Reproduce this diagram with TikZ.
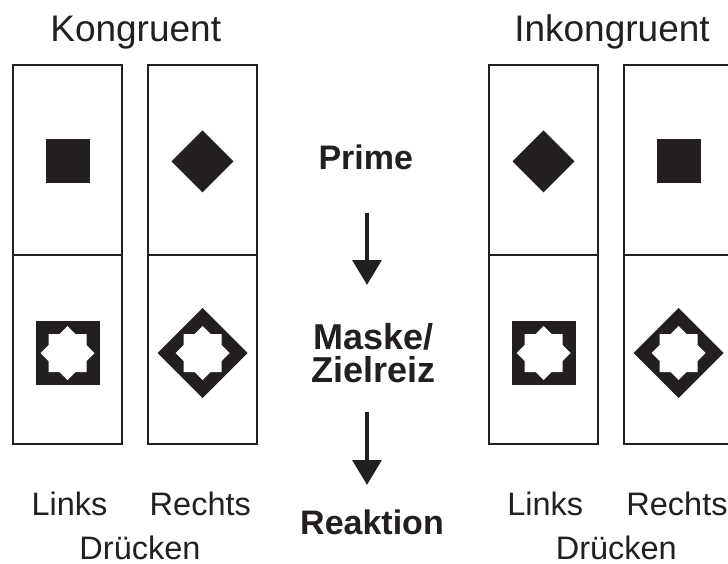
\documentclass[tikz,border=0pt]{standalone}
\usepackage{fontspec}
\setmainfont{Liberation Sans}
\usetikzlibrary{arrows.meta}
\definecolor{ink}{RGB}{35,31,32}
\begin{document}
\begin{tikzpicture}[x=1pt,y=-1pt,
  cell/.style={draw=ink, line width=2pt, minimum width=109pt, minimum height=189pt, inner sep=0},
  title/.style={font=\fontsize{37}{44}\selectfont, text=ink, anchor=base, inner sep=0},
  keylabel/.style={font=\fontsize{32.5}{39}\selectfont, text=ink, anchor=base, inner sep=0},
  stage/.style={font=\bfseries\fontsize{34}{40}\selectfont, text=ink, anchor=base, inner sep=0},
  stagewide/.style={stage, font=\bfseries\fontsize{36}{42}\selectfont},
  flow/.style={draw=ink, line width=4.8pt, -{Triangle[length=25pt,width=28.5pt]}},
  pics/primesq/.style={code={\fill[ink] (-22,-22) rectangle (22,22);}},
  pics/primedia/.style={code={\fill[ink] (0,-31) -- (31,0) -- (0,31) -- (-31,0) -- cycle;}},
  pics/masksq/.style={code={
    \fill[ink] (-32,-32) rectangle (32,32);
    \fill[white] (0,-27) -- (8,-19) -- (19,-19) -- (19,-8) -- (27,0) -- (19,8) -- (19,19) -- (8,19)
      -- (0,27) -- (-8,19) -- (-19,19) -- (-19,8) -- (-27,0) -- (-19,-8) -- (-19,-19) -- (-8,-19) -- cycle;}},
  pics/maskdia/.style={code={
    \fill[ink] (0,-45) -- (45,0) -- (0,45) -- (-45,0) -- cycle;
    \fill[white] (0,-27) -- (8,-19) -- (19,-19) -- (19,-8) -- (27,0) -- (19,8) -- (19,19) -- (8,19)
      -- (0,27) -- (-8,19) -- (-19,19) -- (-19,8) -- (-27,0) -- (-19,-8) -- (-19,-19) -- (-8,-19) -- cycle;}},
]
\useasboundingbox[fill=white] (0,0) rectangle (728,564);

% panel cells: prime (top) and mask/target (bottom)
\node[cell] (kLp) at (67.5,160) {};
\node[cell] (kLm) at (67.5,349) {};
\node[cell] (kRp) at (202.5,160) {};
\node[cell] (kRm) at (202.5,349) {};
\node[cell] (iLp) at (543.5,160) {};
\node[cell] (iLm) at (543.5,349) {};
\node[cell] (iRp) at (678.5,160) {};
\node[cell] (iRm) at (678.5,349) {};

% stimuli
\pic at ([yshift=-1.3pt]kLp.center) {primesq};
\pic at ([yshift=-1.3pt]kRp.center) {primedia};
\pic at ([yshift=-4pt]kLm.center) {masksq};
\pic at ([yshift=-4pt]kRm.center) {maskdia};
\pic at ([yshift=-1.3pt]iLp.center) {primedia};
\pic at ([yshift=-1.3pt]iRp.center) {primesq};
\pic at ([yshift=-4pt]iLm.center) {masksq};
\pic at ([yshift=-4pt]iRm.center) {maskdia};

% headings
\node[title] (kong) at (135.7,41.7) {Kongruent};
\node[title] (inkong) at (612,41.7) {Inkongruent};

% response keys
\node[keylabel] (kLinks) at (69.5,515.7) {Links};
\node[keylabel] (kRechts) at (200.3,515.7) {Rechts};
\node[keylabel] (kDr) at (140,559.3) {Drücken};
\node[keylabel] (iLinks) at (545.3,515.7) {Links};
\node[keylabel] (iRechts) at (677,515.7) {Rechts};
\node[keylabel] (iDr) at (616.3,559.3) {Drücken};

% trial sequence
\node[stage] (prime) at (365.8,170) {Prime};
\node[stagewide] (maske) at (373.5,349.3) {Maske/};
\node[stagewide] (ziel) at (373.5,382.7) {Zielreiz};
\node[stage] (reakt) at (372,534) {Reaktion};

\coordinate (s1) at (367,212.7);
\coordinate (t1) at (367,285);
\coordinate (s2) at (367,411.5);
\coordinate (t2) at (367,485);
\draw[flow] (s1) -- (t1);
\draw[flow] (s2) -- (t2);
\end{tikzpicture}
\end{document}
